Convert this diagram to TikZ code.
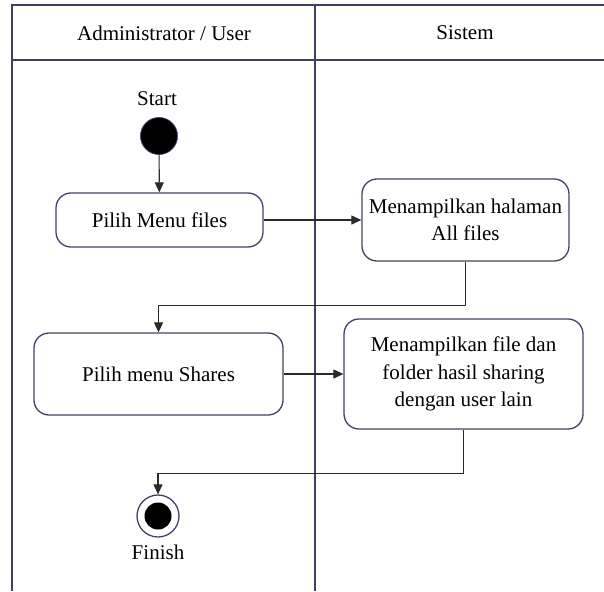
\documentclass[tikz,border=0pt]{standalone}
\usepackage{fontspec}
\setmainfont{Liberation Serif}
\usetikzlibrary{arrows.meta}
\definecolor{frame}{HTML}{3C4160}
\definecolor{boxline}{HTML}{3E4468}
\definecolor{conn}{HTML}{2A2A2A}
\tikzset{
  actbox/.style={draw=boxline, line width=1.3pt, rounded corners=15pt, align=center, inner sep=0pt,
    font=\fontsize{21}{27.5}\selectfont, text=black},
  lbl/.style={font=\fontsize{21}{25}\selectfont, text=black, inner sep=0pt},
  arr/.style={draw=conn, line width=1.1pt, -{Triangle[length=10pt,width=9pt]}},
  lane/.style={draw=frame, line width=1.5pt}
}
\begin{document}
\begin{tikzpicture}[x=1pt,y=-1pt]
\useasboundingbox (0,0) rectangle (604,591);
% swimlane frame
\draw[lane] (604,5) -- (12,5) -- (12,591);
\draw[lane] (12,60) -- (604,60);
\draw[lane] (315,5) -- (315,591);
\node[lbl] (h1) at (164,33) {Administrator / User};
\node[lbl] (h2) at (465,33) {Sistem};
% start
\node[lbl] (startlbl) at (157,99) {Start};
\node[circle, fill=black, draw=boxline, line width=0.8pt, minimum size=37pt, inner sep=0pt] (start) at (159,136) {};
% activities
\node[actbox, minimum width=207pt, minimum height=54pt] (menu) at (159.5,220) {Pilih Menu files};
\node[actbox, minimum width=207pt, minimum height=82pt] (allfiles) at (465.5,220) {Menampilkan halaman\\All files};
\node[actbox, minimum width=249pt, minimum height=82pt] (shares) at (158.5,374) {Pilih menu Shares};
\node[actbox, minimum width=239pt, minimum height=110pt] (filebox) at (463.5,374) {Menampilkan file dan\\folder hasil sharing\\dengan user lain};
% finish
\node[circle, draw=boxline, line width=1.3pt, minimum size=42pt, inner sep=0pt] (finish) at (158,516) {};
\node[circle, fill=black, minimum size=27pt, inner sep=0pt] (finishdot) at (finish.center) {};
\node[lbl] (finishlbl) at (158,552) {Finish};
% connectors
\draw[arr] (start) -- (menu);
\draw[arr] (menu) -- (allfiles);
\draw[arr] (allfiles.south) -- ++(0,44) -| (shares.north);
\draw[arr] (shares) -- (filebox);
\draw[arr] (filebox.south) -- ++(0,44) -| (finish.north);
\end{tikzpicture}
\end{document}
